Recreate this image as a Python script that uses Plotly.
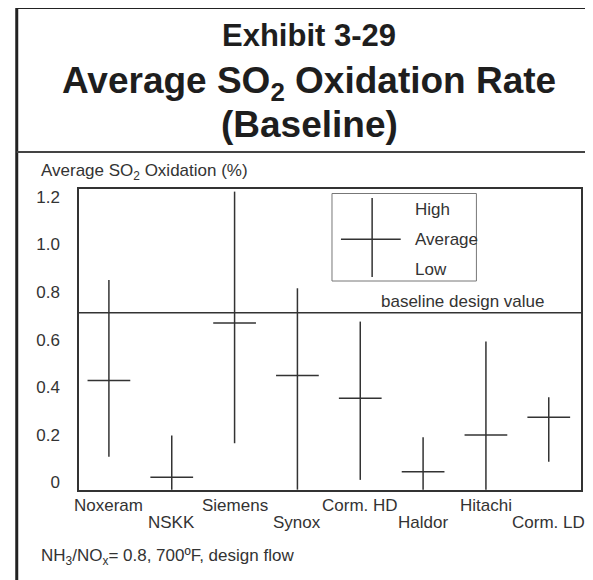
import plotly.graph_objects as go

# ---- data ----
categories = ["Noxeram", "NSKK", "Siemens", "Synox", "Corm. HD", "Haldor", "Hitachi", "Corm. LD"]
high = [0.851, 0.197, 1.222, 0.816, 0.676, 0.190, 0.592, 0.358]
average = [0.428, 0.022, 0.670, 0.449, 0.354, 0.045, 0.200, 0.274]
low = [0.108, -0.03, 0.165, -0.03, 0.011, -0.03, -0.03, 0.087]
baseline_design_value = 0.713
y_tickvals = [0, 0.2, 0.4, 0.6, 0.8, 1.0, 1.2]
y_ticktext = ["0", "0.2", "0.4", "0.6", "0.8", "1.0", "1.2"]

# ---- layout geometry (page pixels; the page body adds an 8px margin) ----
OX, OY = 8, 8
W, H = 593 - OX, 580 - OY
L, R, T, B = 79, 583, 189, 490   # plot area in page pixels


def px(x):
    return (x - L) / (R - L)


def py(y):
    return (B - y) / (B - T)


FONT = "Liberation Sans, Arial, sans-serif"
INK = "#1e1e1e"
TXT = "#333333"
LINE = "#333333"
SMALL = 17

xs = list(range(len(categories)))
fig = go.Figure()
fig.add_trace(go.Scatter(
    x=xs, y=average, mode="none",
    error_y=dict(type="data", symmetric=False,
                 array=[h - a for h, a in zip(high, average)],
                 arrayminus=[a - l for a, l in zip(average, low)],
                 width=0, thickness=1.5, color=LINE),
    error_x=dict(type="constant", value=0.34, width=0, thickness=1.5, color=LINE),
    showlegend=False, hoverinfo="skip",
))

shapes = []
# baseline design value line
shapes.append(dict(type="line", xref="paper", x0=0, x1=1, yref="y",
                   y0=baseline_design_value, y1=baseline_design_value,
                   line=dict(color=LINE, width=1.5)))
# outer frame
shapes.append(dict(type="line", xref="paper", yref="paper", x0=px(16.5), x1=px(600),
                   y0=py(7.5), y1=py(7.5), line=dict(color="#222", width=3)))
shapes.append(dict(type="line", xref="paper", yref="paper", x0=px(16.5), x1=px(16.5),
                   y0=py(6), y1=py(590), line=dict(color="#222", width=3)))
shapes.append(dict(type="line", xref="paper", yref="paper", x0=px(16.5), x1=px(600),
                   y0=py(152), y1=py(152), line=dict(color="#444", width=2)))
# legend box and symbol
shapes.append(dict(type="rect", xref="paper", yref="paper", x0=px(333), x1=px(478),
                   y0=py(193.5), y1=py(281), line=dict(color="#777", width=1)))
shapes.append(dict(type="line", xref="paper", yref="paper", x0=px(373.3), x1=px(373.3),
                   y0=py(198), y1=py(277), line=dict(color=LINE, width=1.5)))
shapes.append(dict(type="line", xref="paper", yref="paper", x0=px(342), x1=px(402),
                   y0=py(239.3), y1=py(239.3), line=dict(color=LINE, width=1.5)))

annotations = []


def txt(text, x, y, size, xanchor="center", bold=False, color=TXT, xref="paper"):
    annotations.append(dict(
        text=f"<b>{text}</b>" if bold else text,
        x=x, y=py(y), xref=xref, yref="paper",
        xanchor=xanchor, yanchor="middle", showarrow=False,
        font=dict(family=FONT, size=size, color=color),
    ))


# title
txt("Exhibit 3-29", px(310), 36, 31, bold=True, color=INK)
txt("Average SO<sub>2</sub> Oxidation Rate", px(310), 83, 37, bold=True, color=INK)
txt("(Baseline)", px(310), 125, 37, bold=True, color=INK)
# axis title
txt("Average SO<sub>2</sub> Oxidation (%)", px(39), 172, SMALL, xanchor="left")
# legend text
txt("High", px(414), 209, SMALL, xanchor="left")
txt("Average", px(414), 239, SMALL, xanchor="left")
txt("Low", px(414), 269, SMALL, xanchor="left")
txt("baseline design value", px(465), 301, SMALL)
# category labels, staggered
for i, c in enumerate(categories):
    txt(c, i, 505 if i % 2 == 0 else 522, SMALL, xref="x")
# footnote
txt("NH<sub>3</sub>/NO<sub>x</sub>= 0.8, 700ºF, design flow", px(39), 557, SMALL,
    xanchor="left")

fig.update_layout(
    width=W, height=H,
    margin=dict(l=L - OX, r=(W + OX) - R, t=T - OY, b=(H + OY) - B, pad=0),
    paper_bgcolor="white", plot_bgcolor="white",
    font=dict(family=FONT, size=SMALL, color=TXT),
    shapes=shapes, annotations=annotations,
    xaxis=dict(range=[-0.476, 7.513], tickmode="array", tickvals=[], ticks="",
               showgrid=False, zeroline=False, showline=True, mirror=True,
               linecolor=LINE, linewidth=1.5),
    yaxis=dict(range=[-0.0315, 1.233], tickvals=y_tickvals, ticktext=y_ticktext,
               ticks="", showgrid=False, zeroline=False, showline=True, mirror=True,
               linecolor=LINE, linewidth=1.5, ticklabelstandoff=14,
               tickfont=dict(family=FONT, size=SMALL, color=TXT)),
)

fig.write_html("out.html")
